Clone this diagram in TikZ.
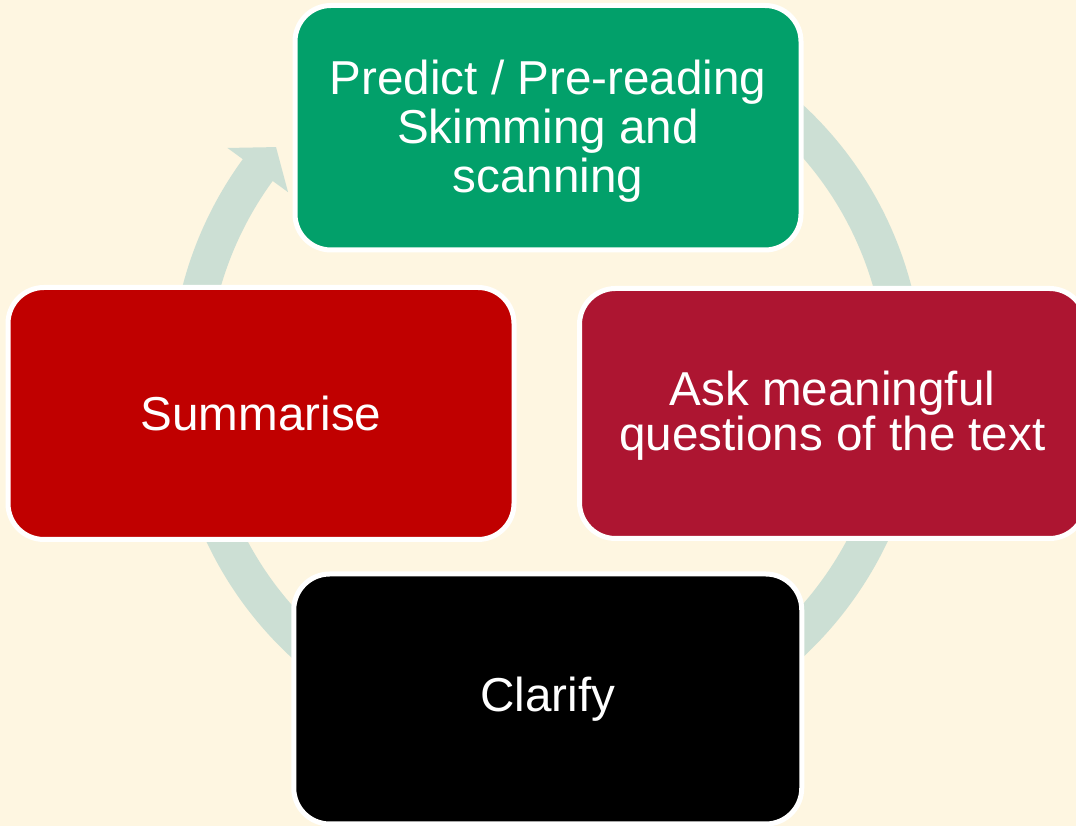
\documentclass[tikz,border=0pt]{standalone}
\usepackage{fontspec}
\setmainfont{Liberation Sans}
\definecolor{bgcol}{RGB}{254,246,225}
\definecolor{ringcol}{RGB}{204,223,212}
\definecolor{boxgreen}{RGB}{2,160,106}
\definecolor{boxred}{RGB}{192,0,0}
\definecolor{boxmaroon}{RGB}{173,21,49}
\tikzset{
  stage/.style={draw=white, line width=5pt, rounded corners=36pt, inner sep=0pt,
    minimum width=506pt, minimum height=250pt},
  stagetext/.style={inner sep=0pt, text=white, align=center,
    font=\fontsize{47.6}{49}\selectfont},
}
\begin{document}
\begin{tikzpicture}[x=1pt,y=1pt]
\clip (0,0) rectangle (1076,826);
\fill[bgcol] (0,0) rectangle (1076,826);
% cycle ring with arrowhead
\coordinate (c) at (547,445);
\draw[ringcol, line width=37pt, shift={(c)}] (143.5:358) arc[start angle=143.5, end angle=485, radius=358];
\fill[ringcol, shift={(c)}] (143.9:320.5) -- (143.9:395.5) -- (139.2:358) -- cycle;
% stages
\node[stage, fill=boxgreen, minimum height=244.5pt] (predict) at (548,698.25) {};
\node[stage, fill=boxmaroon] (ask) at (832.5,412.5) {};
\node[stage, fill=black, minimum width=508pt] (clarify) at (547.75,127) {};
\node[stage, fill=boxred, minimum height=252pt] (summ) at (261,412.5) {};
% texts
\node[stagetext] (predict-t) at ([yshift=-3pt]predict.center) {Predict / Pre-reading\\Skimming and\\scanning};
\node[stagetext, font=\fontsize{47.6}{45.5}\selectfont] (ask-t) at ([yshift=-2pt]ask.center) {Ask meaningful\\questions of the text};
\node[stagetext] (clarify-t) at (clarify.center) {Clarify};
\node[stagetext] (summ-t) at (summ.center) {Summarise};
\end{tikzpicture}
\end{document}
